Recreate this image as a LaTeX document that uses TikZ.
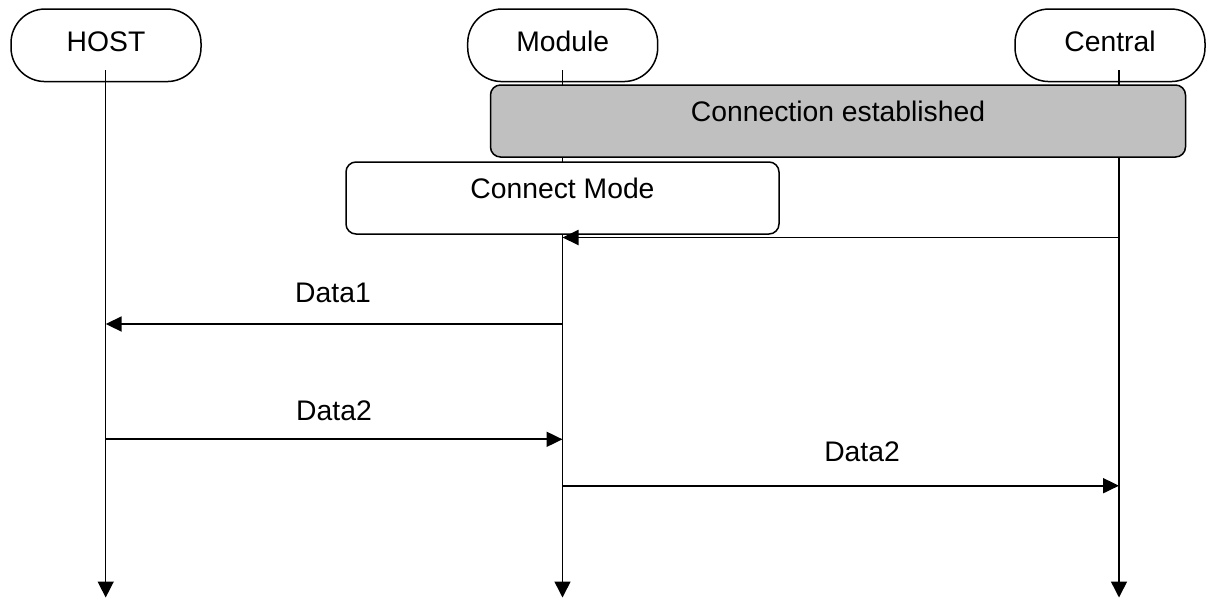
\documentclass[tikz,border=0pt]{standalone}
\usepackage{fontspec}
\setmainfont{Liberation Sans}
\usetikzlibrary{arrows.meta}
\definecolor{estab}{HTML}{C0C0C0}
\begin{document}
\begin{tikzpicture}[x=1pt,y=-1pt,
  every node/.style={font=\fontsize{28.3}{34}\selectfont},
  actor/.style={draw, fill=white, line width=1.5pt, rounded corners=34pt,
    minimum width=190pt, minimum height=72.5pt, inner sep=0pt,
    text height=20.3pt, text depth=7pt},
  statebox/.style={draw, line width=1.5pt, rounded corners=10pt,
    minimum height=72pt, inner sep=0pt,
    text height=20.3pt, text depth=20.3pt},
  lifeline/.style={line width=1.5pt, -{Triangle[length=16pt,width=16pt]}},
  msg/.style={line width=1.9pt, -{Triangle[length=16pt,width=15pt]}},
  lbl/.style={anchor=base, inner sep=0pt}
]
\useasboundingbox[fill=white] (0,0) rectangle (1210,598);

% actors
\node[actor] (host) at (106,45.3) {HOST};
\node[actor] (module) at (562.7,45.3) {Module};
\node[actor] (central) at (1110,45.3) {Central};

% lifeline coordinates
\coordinate (hostTop) at (105.7,70);
\coordinate (hostEnd) at (105.7,597.5);
\coordinate (modTop) at (562.5,70);
\coordinate (modEnd) at (562.5,597.5);
\coordinate (cenTop) at (1119,70);
\coordinate (cenEnd) at (1119,597.5);

\draw[lifeline] (hostTop) -- (hostEnd);
\draw[lifeline] (modTop) -- (modEnd);
\draw[lifeline] (cenTop) -- (cenEnd);

% state boxes
\node[statebox, fill=estab, minimum width=695pt] (conn) at (838,121) {Connection established};
\node[statebox, fill=white, minimum width=433pt] (cmode) at (562.5,198) {Connect Mode};

% message points
\coordinate (cenA) at (1119,237.5);
\coordinate (modA) at (562.5,237.5);
\coordinate (modB) at (562.5,324);
\coordinate (hostB) at (105.7,324);
\coordinate (hostC) at (105.7,439.3);
\coordinate (modC) at (562.5,439.3);
\coordinate (modD) at (562.5,485.7);
\coordinate (cenD) at (1119,485.7);

\draw[msg] (cenA) -- (modA);
\draw[msg] (modB) -- (hostB);
\draw[msg] (hostC) -- (modC);
\draw[msg] (modD) -- (cenD);

% labels
\node[lbl] (l1) at (333,302.7) {Data1};
\node[lbl] (l2) at (334,420) {Data2};
\node[lbl] (l3) at (862,461.7) {Data2};
\end{tikzpicture}
\end{document}
